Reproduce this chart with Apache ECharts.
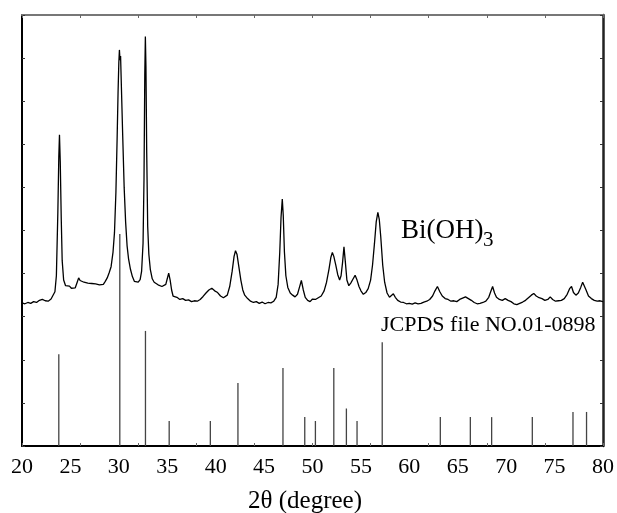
<!DOCTYPE html>
<html>
<head>
<meta charset="utf-8">
<script src="https://cdn.jsdelivr.net/npm/echarts@6/dist/echarts.min.js"></script>
<style>html,body{margin:0;padding:0;background:#fff}#c{width:617px;height:513px}</style>
</head>
<body>
<div id="c"></div>
<script>
// Measured XRD pattern of Bi(OH)3: [2theta, intensity (a.u.)]
var pattern = [
[20.0,3.32],[20.3,3.30],[20.6,3.33],[20.9,3.31],[21.2,3.35],[21.5,3.33],[21.8,3.38],[22.1,3.40],[22.4,3.37],[22.7,3.36],[23.0,3.41],[23.2,3.45],[23.4,3.58],[23.55,3.95],[23.7,5.4],[23.8,6.7],[23.87,7.22],[23.95,6.6],[24.05,5.3],[24.15,4.3],[24.3,3.85],[24.5,3.72],[24.7,3.68],[24.9,3.71],[25.1,3.66],[25.3,3.68],[25.5,3.67],[25.7,3.80],[25.85,3.90],[26.0,3.84],[26.2,3.88],[26.4,3.80],[26.6,3.83],[26.8,3.78],[27.0,3.82],[27.2,3.77],[27.4,3.80],[27.6,3.76],[27.8,3.79],[28.0,3.74],[28.2,3.77],[28.4,3.75],[28.6,3.82],[28.8,3.90],[29.0,4.02],[29.2,4.16],[29.4,4.50],[29.55,4.95],[29.7,5.9],[29.82,7.1],[29.92,8.2],[30.0,8.9],[30.06,9.19],[30.12,8.95],[30.18,9.05],[30.28,8.2],[30.4,7.2],[30.55,6.0],[30.7,5.2],[30.85,4.65],[31.0,4.35],[31.2,4.10],[31.4,3.93],[31.6,3.82],[31.8,3.78],[32.0,3.80],[32.2,3.86],[32.35,4.05],[32.5,4.7],[32.6,6.2],[32.68,8.6],[32.74,9.50],[32.8,8.8],[32.88,6.8],[32.98,5.1],[33.1,4.45],[33.25,4.1],[33.45,3.88],[33.65,3.80],[33.85,3.82],[34.05,3.74],[34.25,3.76],[34.45,3.70],[34.65,3.67],[34.85,3.75],[35.0,3.88],[35.15,4.01],[35.3,3.85],[35.45,3.62],[35.6,3.48],[35.8,3.44],[36.0,3.45],[36.3,3.40],[36.6,3.42],[36.9,3.38],[37.2,3.39],[37.5,3.35],[37.8,3.37],[38.1,3.36],[38.4,3.40],[38.7,3.47],[39.0,3.55],[39.3,3.62],[39.6,3.66],[39.9,3.60],[40.2,3.56],[40.5,3.48],[40.8,3.44],[41.0,3.42],[41.2,3.50],[41.45,3.70],[41.7,4.05],[41.9,4.40],[42.05,4.53],[42.2,4.45],[42.4,4.15],[42.6,3.85],[42.8,3.62],[43.0,3.50],[43.3,3.42],[43.6,3.36],[43.9,3.33],[44.2,3.35],[44.5,3.31],[44.8,3.34],[45.1,3.30],[45.4,3.33],[45.7,3.32],[46.0,3.36],[46.25,3.45],[46.45,3.75],[46.62,4.5],[46.75,5.3],[46.88,5.73],[46.98,5.35],[47.1,4.5],[47.25,3.95],[47.45,3.68],[47.7,3.55],[47.95,3.50],[48.2,3.46],[48.45,3.52],[48.65,3.68],[48.85,3.84],[49.05,3.62],[49.25,3.45],[49.5,3.38],[49.75,3.35],[50.0,3.41],[50.3,3.40],[50.6,3.44],[50.9,3.48],[51.2,3.60],[51.45,3.80],[51.7,4.10],[51.9,4.38],[52.05,4.49],[52.2,4.40],[52.4,4.20],[52.6,3.98],[52.8,3.85],[52.95,3.95],[53.1,4.25],[53.25,4.62],[53.4,4.25],[53.55,3.85],[53.75,3.72],[53.95,3.78],[54.2,3.88],[54.4,3.96],[54.6,3.85],[54.8,3.70],[55.0,3.60],[55.25,3.52],[55.5,3.56],[55.75,3.65],[56.0,3.85],[56.2,4.20],[56.4,4.70],[56.58,5.20],[56.75,5.42],[56.9,5.25],[57.05,4.85],[57.25,4.20],[57.45,3.80],[57.7,3.55],[57.95,3.45],[58.15,3.48],[58.35,3.53],[58.55,3.45],[58.8,3.38],[59.1,3.34],[59.4,3.33],[59.7,3.30],[60.0,3.31],[60.3,3.29],[60.6,3.32],[60.9,3.30],[61.2,3.31],[61.5,3.34],[61.8,3.36],[62.1,3.40],[62.4,3.48],[62.65,3.60],[62.9,3.70],[63.15,3.58],[63.4,3.48],[63.7,3.42],[64.0,3.40],[64.3,3.36],[64.6,3.37],[64.9,3.35],[65.2,3.40],[65.5,3.43],[65.8,3.46],[66.1,3.42],[66.4,3.38],[66.7,3.33],[67.0,3.30],[67.3,3.31],[67.6,3.33],[67.9,3.36],[68.2,3.45],[68.4,3.58],[68.6,3.70],[68.8,3.55],[69.0,3.45],[69.3,3.40],[69.6,3.38],[69.9,3.42],[70.2,3.38],[70.5,3.35],[70.8,3.30],[71.1,3.28],[71.4,3.31],[71.7,3.34],[72.0,3.38],[72.3,3.44],[72.6,3.50],[72.85,3.54],[73.1,3.48],[73.4,3.44],[73.7,3.42],[74.0,3.38],[74.3,3.40],[74.55,3.46],[74.8,3.40],[75.1,3.36],[75.4,3.37],[75.7,3.38],[76.0,3.42],[76.3,3.52],[76.55,3.65],[76.75,3.70],[76.95,3.56],[77.2,3.50],[77.45,3.55],[77.7,3.68],[77.9,3.80],[78.05,3.81],[78.25,3.62],[78.5,3.48],[78.8,3.42],[79.1,3.38],[79.4,3.36],[79.7,3.37],[80.0,3.35]
];
// JCPDS 01-0898 reference lines
var refPositions = [23.8, 30.1, 32.75, 35.2, 39.45, 42.3, 46.95, 49.2, 50.3, 52.2, 53.5, 54.6, 57.2, 63.2, 66.3, 68.5, 72.7, 76.9, 78.3];
var refIntensities = [2.13, 4.92, 2.67, 0.58, 0.58, 1.46, 1.81, 0.67, 0.58, 1.81, 0.87, 0.58, 2.41, 0.67, 0.67, 0.67, 0.67, 0.79, 0.79];
var xMin = 20, xMax = 80, xLabelStep = 5, xTickStep = 6;
var yMin = 0, yMax = 10, yTickStep = 1;
var xTitle = '2θ (degree)';
var sampleLabel = 'Bi(OH)';
var sampleSub = '3';
var refLabel = 'JCPDS file NO.01-0898';

var serif = '"Liberation Serif", "Times New Roman", serif';
var refData = refPositions.map(function (p, i) { return [p, refIntensities[i]]; });

var chart = echarts.init(document.getElementById('c'), null, {renderer: 'canvas'});
chart.setOption({
  animation: false,
  backgroundColor: '#fff',
  grid: {left: 22, right: 14, top: 15, bottom: 67, containLabel: false},
  xAxis: [
    {type: 'value', position: 'bottom', min: xMin, max: xMax, interval: xLabelStep,
     axisLine: {show: true, lineStyle: {color: '#000', width: 2}},
     axisTick: {show: false}, splitLine: {show: false},
     axisLabel: {color: '#000', fontFamily: serif, fontSize: 22, margin: 10}},
    {type: 'value', position: 'bottom', min: xMin, max: xMax, interval: xTickStep,
     axisLine: {show: false}, axisLabel: {show: false}, splitLine: {show: false},
     axisTick: {show: true, inside: true, length: 3, lineStyle: {color: '#666', width: 1}}},
    {type: 'value', position: 'top', min: xMin, max: xMax, interval: xTickStep,
     axisLine: {show: true, lineStyle: {color: '#777', width: 2}},
     axisLabel: {show: false}, splitLine: {show: false},
     axisTick: {show: true, inside: true, length: 3, lineStyle: {color: '#666', width: 1}}}
  ],
  yAxis: [
    {type: 'value', position: 'left', min: yMin, max: yMax, interval: yTickStep,
     axisLine: {show: true, lineStyle: {color: '#000', width: 2}},
     axisLabel: {show: false}, splitLine: {show: false},
     axisTick: {show: true, inside: true, length: 3, lineStyle: {color: '#333', width: 1}}},
    {type: 'value', position: 'right', min: yMin, max: yMax, interval: yTickStep,
     axisLine: {show: true, lineStyle: {color: '#222', width: 2.5}},
     axisLabel: {show: false}, splitLine: {show: false},
     axisTick: {show: true, inside: true, length: 3, lineStyle: {color: '#333', width: 1}}}
  ],
  series: [
    {type: 'bar', xAxisIndex: 0, yAxisIndex: 0, data: refData, barWidth: 1.3,
     itemStyle: {color: '#444'}, silent: true},
    {type: 'line', xAxisIndex: 0, yAxisIndex: 0, data: pattern, showSymbol: false,
     lineStyle: {color: '#000', width: 1.3}, silent: true, z: 3}
  ],
  graphic: [
    {type: 'text', x: 248, y: 501, style: {text: xTitle, font: '25px ' + serif, fill: '#000', align: 'left', verticalAlign: 'middle'}},
    {type: 'text', x: 401, y: 231, style: {text: sampleLabel, font: '27px ' + serif, fill: '#000', align: 'left', verticalAlign: 'middle'}},
    {type: 'text', x: 483, y: 240, style: {text: sampleSub, font: '21px ' + serif, fill: '#000', align: 'left', verticalAlign: 'middle'}},
    {type: 'text', x: 381, y: 325, style: {text: refLabel, font: '22px ' + serif, fill: '#000', align: 'left', verticalAlign: 'middle'}}
  ]
});
</script>
</body>
</html>
